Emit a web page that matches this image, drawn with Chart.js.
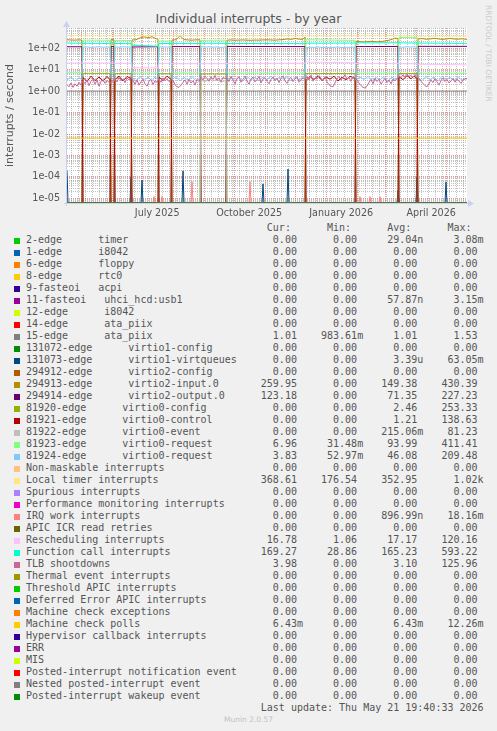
<!DOCTYPE html>
<html lang="en">
<head>
<meta charset="UTF-8">
<title>Individual interrupts - by year</title>
<script src="https://cdn.jsdelivr.net/npm/chart.js@4"></script>
<style>
  body { margin: 0; background: #f0f0f0; width: 497px; height: 731px; position: relative; overflow: hidden;
         font-family: 'DejaVu Sans', sans-serif; color: #555; }
  #chart { position: absolute; left: 0; top: 0; }
  .title { position: absolute; left: 0; top: 11px; width: 497px; text-align: center; font-size: 12.5px; line-height: 16px; }
  .rrd { position: absolute; left: 484px; top: 5px; writing-mode: vertical-rl; font-size: 7.5px; line-height: 9px; color: #cccccc; }
  #legend { position: absolute; left: 0; top: 0; font-family: 'DejaVu Sans Mono', monospace; font-size: 10px; }
  .row { position: absolute; left: 26px; height: 12px; line-height: 12px; white-space: pre; }
  .sw { position: absolute; left: 14px; width: 6px; height: 6px; }
  .munin { position: absolute; left: 0; top: 715px; width: 497px; text-align: center; font-size: 7.5px; line-height: 10px; color: #c0c0c0; }
</style>
</head>
<body>
<div class="title">Individual interrupts - by year</div>
<div class="rrd">RRDTOOL / TOBI OETIKER</div>
<canvas id="chart" width="497" height="222"></canvas>
<div id="legend"></div>
<div class="munin">Munin 2.0.57</div>
<script>
// ---- legend table ----
const labels = [
  '2-edge      timer', '1-edge      i8042', '6-edge      floppy', '8-edge      rtc0',
  '9-fasteoi   acpi', '11-fasteoi   uhci_hcd:usb1', '12-edge      i8042', '14-edge      ata_piix',
  '15-edge      ata_piix', '131072-edge      virtio1-config', '131073-edge      virtio1-virtqueues',
  '294912-edge      virtio2-config', '294913-edge      virtio2-input.0', '294914-edge      virtio2-output.0',
  '81920-edge      virtio0-config', '81921-edge      virtio0-control', '81922-edge      virtio0-event',
  '81923-edge      virtio0-request', '81924-edge      virtio0-request', 'Non-maskable interrupts',
  'Local timer interrupts', 'Spurious interrupts', 'Performance monitoring interrupts', 'IRQ work interrupts',
  'APIC ICR read retries', 'Rescheduling interrupts', 'Function call interrupts', 'TLB shootdowns',
  'Thermal event interrupts', 'Threshold APIC interrupts', 'Deferred Error APIC interrupts',
  'Machine check exceptions', 'Machine check polls', 'Hypervisor callback interrupts', 'ERR', 'MIS',
  'Posted-interrupt notification event', 'Nested posted-interrupt event', 'Posted-interrupt wakeup event'
];
const curVals = [0,0,0,0,0,0,0,0,1.01,0,0,0,259.95,123.18,0,0,0,6.96,3.83,0,368.61,0,0,0,0,16.78,169.27,3.98,0,0,0,0,6.43e-3,0,0,0,0,0,0];
const minVals = [0,0,0,0,0,0,0,0,983.61e-3,0,0,0,0,0,0,0,0,31.48e-3,52.97e-3,0,176.54,0,0,0,0,1.06,28.86,0,0,0,0,0,0,0,0,0,0,0,0];
const avgVals = [29.04e-9,0,0,0,0,57.87e-9,0,0,1.01,0,3.39e-6,0,149.38,71.35,2.46,1.21,215.06e-3,93.99,46.08,0,352.95,0,0,896.99e-9,0,17.17,165.23,3.10,0,0,0,0,6.43e-3,0,0,0,0,0,0];
const maxVals = [3.08e-3,0,0,0,0,3.15e-3,0,0,1.53,0,63.05e-3,0,430.39,227.23,253.33,138.63,81.23,411.41,209.48,0,1.02e3,0,0,18.16e-3,0,120.16,593.22,125.96,0,0,0,0,12.26e-3,0,0,0,0,0,0];

const palette = ['#00CC00','#0066B3','#FF8000','#FFCC00','#330099','#990099','#CCFF00','#FF0000','#808080',
  '#008F00','#00487D','#B35A00','#B38F00','#6B006B','#8FB300','#B30000','#BEBEBE','#80FF80','#80C9FF',
  '#FFC080','#FFE680','#AA80FF','#EE00CC','#FF8080','#666600','#FFBFFF','#00FFCC','#CC6699','#999900'];

// ---- plotted series (x = day since start of the 400 day window) ----
const days = [0,4,8,12,15, 16,20,24,28,32,36,40,43, 44,47, 48,52,56,60,64, 65,69,73,77,81,85,88,91,
  92,96,100,104, 105,109,113,117,121,125,129,133, 134,138,142,146,150,154,159,
  160,164,168,172,176,180,184,188,192,196,200,204,208,212,216,220,224,228,232,236,238,
  239,243,247,251,255,259,263,267,271,275,279,283,288, 289,293,297,301,305,309,313,317,321,325,328,331,
  332,336,340,344,347,350, 351,355,359,363,367,371,375,379,383,387,391,395,400];
const v2inVals = [250,245,240,248,242, 0,0,0,0,0,0,0,0, 255,250, 0,0,0,0,0, 245,250,305,345,310,350,290,265,
  0,0,0,0, 245,252,385,255,245,240,248,250, 0,0,0,0,0,0,0,
  240,245,238,242,246,240,236,242,240,246,250,244,240,248,255,272,262,285,268,262,335,
  0,0,0,0,0,0,0,0,0,0,0,0,0, 212,205,198,206,212,200,205,216,232,262,300,282,
  0,0,0,0,0,0, 272,285,265,272,292,276,262,270,288,272,266,278,260];
const v0ctlVals = [0,0,0,0,0, 4.4,2.8,5.0,3.1,4.6,2.9,4.9,3.4, 0,0, 3.5,5.0,3.0,4.8,3.9, 0,0,0,0,0,0,0,0,
  4.6,3.1,5.0,3.6, 0,0,0,0,0,0,0,0, 0,0,0,0,0,0,0,
  0,0,0,0,0,0,0,0,0,0,0,0,0,0,0,0,0,0,0,0,0,
  3.2,4.8,3.5,5.2,3.1,4.6,3.6,5.0,3.0,4.5,3.4,4.9,4.0, 0,0,0,0,0,0,0,0,0,0,0,0,
  4.8,3.4,5.3,3.8,5.0,3.9, 0,0,0,0,0,0,0,0,0,0,0,0,0];
const v0evtVals = [0,0,0,0,0, 0,0,0,0,0,0,0,0, 0,0, 0,0,0,0,0, 0,0,0,0,0,0,0,0,
  0,0,0,0, 0,0,0,0,0,0,0,0, 3.4,2.8,3.8,3.0,3.6,2.6,3.2,
  0,0,0,0,0,0,0,0,0,0,0,0,0,0,0,0,0,0,0,0,0,
  0,0,0,0,0,0,0,0,0,0,0,0,0, 0,0,0,0,0,0,0,0,0,0,0,0,
  0,0,0,0,0,0, 0,0,0,0,0,0,0,0,0,0,0,0,0];
const v0req2Vals = [3.3,4.6,2.9,4.2,3.4, 112,116,110,114,118,112,115,113, 4.4,3.1, 116,112,118,114,115,
  4.2,2.9,4.9,3.2,4.5,3.0,4.7,3.4, 118,114,116,112, 3.5,4.8,3.0,4.4,3.3,5.0,2.9,4.1, 120,114,118,112,116,110,115,
  3.4,4.7,3.1,4.3,2.9,4.9,3.3,4.5,3.0,4.6,3.4,5.0,3.1,4.4,3.6,4.8,3.0,4.5,3.3,4.9,3.9,
  108,112,110,115,109,113,106,111,114,108,112,110,113, 3.2,4.6,3.5,5.0,3.1,4.4,3.4,4.8,3.0,4.5,3.6,4.2,
  116,112,118,114,117,115, 4.3,3.1,4.8,3.4,4.5,3.0,5.0,3.5,4.4,3.2,4.6,3.3,3.83];

// TLB shootdowns, one value every 2 days
const tlbVals = [2.0,1.6,2.4,1.5,2.2,1.7,2.6,1.9,
  3.0,2.2,3.4,1.8,2.9,3.6,2.1,3.3,1.7,2.8,3.5,2.3,3.1,2.6,
  2.4,3.2,
  3.9,2.7,4.4,3.1,3.7,2.5,4.1,3.3,4.6,
  3.0,2.1,3.4,1.9,2.7,3.6,2.2,1.7,2.9,3.5,2.0,3.1,2.6,
  3.6,2.6,4.2,3.0,3.8,2.8,3.4,
  3.2,2.0,1.6,1.5,1.9,2.6,3.4,2.1,3.6,2.4,3.1,1.9,3.5,2.8,
  4.6,3.3,5.2,3.8,2.9,4.8,3.5,5.4,3.1,4.2,2.7,4.4,3.9,
  4.2,2.8,4.9,3.3,2.2,3.9,4.7,2.6,3.6,5.0,3.0,2.1,3.8,4.5,2.7,3.4,4.9,2.4,3.7,4.3,
  2.9,2.2,3.5,4.6,3.1,4.1,2.5,3.9,5.2,3.0,2.3,3.6,4.4,2.8,3.8,4.8,2.6,3.4,4.2,3.6,
  4.8,3.3,5.6,2.9,4.2,3.6,5.3,4.0,3.1,4.7,2.7,2.0,1.7,1.6,2.4,3.8,5.0,3.2,4.5,5.7,3.5,4.4,2.9,4.6,4.1,
  3.4,2.4,1.8,1.5,1.4,1.7,2.6,3.5,2.2,3.9,2.8,3.6,2.1,2.9,4.0,2.5,3.3,2.2,3.7,3.0,3.8,
  5.0,4.2,5.8,4.6,6.2,4.8,5.4,4.4,5.6,4.7,
  3.8,2.9,2.3,1.8,1.6,2.2,3.4,2.5,3.9,2.7,1.9,3.2,4.1,2.8,3.5,2.4,3.0,4.0,2.6,3.7,2.9,2.3,3.3,3.8,3.98];
const tlbDays = tlbVals.map((v, k) => 2 * k);

// boot segments: value at start and end of each
const segDays = [0,15, 16,43, 44,47, 48,64, 65,91, 92,104, 105,133, 134,159, 160,238, 239,288, 289,331, 332,350, 351,400];
const locVals = [385,382, 380,378, 384,384, 380,378, 388,390, 380,380, 384,380, 378,378, 384,380, 376,380, 384,386, 378,378, 372,369];
const calVals = [175,172, 170,168, 172,172, 168,165, 140,125, 165,168, 170,168, 172,170, 168,165, 172,175, 178,180, 178,176, 175,169];
const resVals = [20.5,20.5, 20.5,20.5, 20.5,20.5, 20,20, 12.5,12, 19.5,19.5, 19,19, 19,19, 19.5,20, 23,21, 19.5,19.5, 19,19, 18,16.8];
const v2outVals = [118,118, 0,0, 120,120, 0,0, 115,118, 0,0, 120,120, 0,0, 122,120, 0,0, 120,122, 0,0, 123,123];
const v0cfgVals = [0,0, 6.8,6.8, 0,0, 6.6,6.6, 0,0, 6.5,6.5, 0,0, 6.4,6.4, 0,0, 6.6,6.6, 0,0, 6.7,6.7, 0,0];
const v0req1Vals = [7.2,7.2, 240,238, 7,7, 228,230, 7,7, 218,220, 7.1,7, 235,240, 7,7, 250,235, 7,7, 320,310, 7,6.96];

// spikes
const vqDays = [0,1, 63,64,65, 74,75,76, 115,116,117, 195,196,197, 220,221,222, 330,331,332, 349,350,351, 378,379,380, 400];
const vqVals = [1.9e-4,0, 0,1.0e-4,0, 0,7.1e-5,0, 0,1.9e-4,0, 0,4.7e-5,0, 0,2.3e-4,0, 0,2.4e-5,0, 0,1.0e-4,0, 0,5.8e-5,0, 0];
const irqDays = [0, 86,87,88, 94,95,96, 124,125,126, 182,183,184, 292,293,294, 302,303,304, 312,313,314, 400];
const irqVals = [0, 0,1.2e-5,0, 0,1.2e-5,0, 0,6e-5,0, 0,6e-5,0, 0,1.2e-5,0, 0,1.2e-5,0, 0,1.2e-5,0, 0];

const edgeDays = [0, 400];
const ata15Vals = [1.01, 1.01];
const mcpVals = [6.43e-3, 6.43e-3];
const zeroVals = [0, 0];

// time axis
const xLabelText = ['July 2025', 'October 2025', 'January 2026', 'April 2026'];
const DAY = 86400000;
const endTime = Date.UTC(2026, 4, 21, 19, 40, 33);
const startTime = endTime - 400 * DAY;
const dayOf = t => (t - startTime) / DAY;
const labelTimes = [Date.UTC(2025, 6, 16), Date.UTC(2025, 9, 16), Date.UTC(2026, 0, 16), Date.UTC(2026, 3, 16)];

const yMin = 6.04e-6, yMax = 885;

const sources = labels.map(() => [edgeDays, zeroVals]);
sources[8] = [edgeDays, ata15Vals];
sources[10] = [vqDays, vqVals];
sources[12] = [days, v2inVals];
sources[13] = [segDays, v2outVals];
sources[14] = [segDays, v0cfgVals];
sources[15] = [days, v0ctlVals];
sources[16] = [days, v0evtVals];
sources[17] = [segDays, v0req1Vals];
sources[18] = [days, v0req2Vals];
sources[20] = [segDays, locVals];
sources[23] = [irqDays, irqVals];
sources[25] = [segDays, resVals];
sources[26] = [segDays, calVals];
sources[27] = [tlbDays, tlbVals];
sources[32] = [edgeDays, mcpVals];

const colorOf = i => palette[i % palette.length];

const datasets = labels.map((name, i) => {
  const [xs, ys] = sources[i];
  return {
    label: name,
    data: xs.map((d, j) => ({ x: d, y: ys[j] > 0 ? ys[j] : yMin })),
    borderColor: colorOf(i),
    borderWidth: 1,
    pointRadius: 0,
    fill: false,
    order: -i
  };
});

// grid ticks
const xKind = new Map();
const xText = new Map();
const monthDays = [];
for (let m = 4; m <= 16; m++) monthDays.push(dayOf(Date.UTC(2025, m, 1)));
monthDays.forEach(d => xKind.set(d, 'major'));
for (let t = Date.UTC(2025, 3, 21); t <= endTime; t += 7 * DAY) {
  const d = dayOf(t);
  if (!monthDays.some(m => Math.abs(m - d) < 0.01)) xKind.set(d, 'minor');
}
labelTimes.forEach((t, k) => { const d = dayOf(t); xKind.set(d, 'label'); xText.set(d, xLabelText[k]); });
const xTicks = [...xKind.keys()].filter(d => d >= 0 && d <= 400).sort((a, b) => a - b);

const yTicks = [];
for (let n = -6; n <= 2; n++) {
  for (let k = 1; k <= 9; k++) {
    const v = k * Math.pow(10, n);
    if (v >= yMin && v <= yMax) yTicks.push(v);
  }
}
const isDecade = v => Math.abs(Math.log10(v) - Math.round(Math.log10(v))) < 1e-9;

const GRID = 'rgba(143,143,143,0.55)';
const MGRID = 'rgba(222,79,79,0.6)';
const AXIS = '#c8d0f4';

const plotBg = {
  id: 'plotBg',
  beforeDraw(chart) {
    const { ctx, chartArea: a } = chart;
    ctx.save();
    ctx.fillStyle = '#ffffff';
    ctx.fillRect(a.left, a.top, a.right - a.left, a.bottom - a.top);
    ctx.restore();
  }
};

const axisArrows = {
  id: 'axisArrows',
  beforeDatasetsDraw(chart) {
    const { ctx, chartArea: a } = chart;
    ctx.save();
    ctx.strokeStyle = AXIS;
    ctx.fillStyle = AXIS;
    ctx.lineWidth = 1;
    ctx.beginPath();
    ctx.moveTo(a.left - 0.5, a.bottom + 3);
    ctx.lineTo(a.left - 0.5, a.top - 4);
    ctx.moveTo(a.left - 3, a.bottom + 0.5);
    ctx.lineTo(a.right + 3, a.bottom + 0.5);
    ctx.stroke();
    ctx.beginPath();
    ctx.moveTo(a.right + 1, a.bottom - 3);
    ctx.lineTo(a.right + 7, a.bottom + 0.5);
    ctx.lineTo(a.right + 1, a.bottom + 4);
    ctx.closePath();
    ctx.fill();
    ctx.beginPath();
    ctx.moveTo(a.left - 4, a.top - 1);
    ctx.lineTo(a.left - 0.5, a.top - 7);
    ctx.lineTo(a.left + 3, a.top - 1);
    ctx.closePath();
    ctx.fill();
    ctx.restore();
  }
};

Chart.defaults.font.family = "'DejaVu Sans', sans-serif";
Chart.defaults.color = '#555';

new Chart(document.getElementById('chart'), {
  type: 'line',
  data: { datasets },
  options: {
    responsive: false,
    animation: false,
    devicePixelRatio: 1,
    layout: { padding: { top: 28, right: 30, bottom: 0, left: 0 } },
    plugins: { legend: { display: false }, tooltip: { enabled: false }, title: { display: false } },
    scales: {
      x: {
        type: 'linear', min: 0, max: 400,
        afterBuildTicks: s => { s.ticks = xTicks.map(v => ({ value: v })); },
        afterFit: s => { s.height = 19; },
        grid: {
          drawTicks: false,
          color: c => {
            const k = c.tick ? xKind.get(c.tick.value) : null;
            return k === 'major' ? MGRID : k === 'minor' ? GRID : 'rgba(0,0,0,0)';
          }
        },
        border: { display: false, dash: [1, 1] },
        ticks: { autoSkip: false, maxRotation: 0, minRotation: 0, padding: 5, font: { size: 9.6 },
                 callback: v => xText.get(v) || '' }
      },
      y: {
        type: 'logarithmic', min: yMin, max: yMax,
        afterBuildTicks: s => { s.ticks = yTicks.map(v => ({ value: v })); },
        afterFit: s => { s.width = 67; },
        grid: { drawTicks: false, color: c => (c.tick && isDecade(c.tick.value)) ? MGRID : GRID },
        border: { display: false, dash: [1, 1] },
        title: { display: true, text: 'interrupts / second', font: { size: 10.9 }, padding: { top: 4, bottom: 0 } },
        ticks: {
          autoSkip: false, padding: 7, font: { size: 9.6 },
          callback: v => {
            if (!isDecade(v)) return '';
            const e = Math.round(Math.log10(v));
            return '1e' + (e < 0 ? '-' : '+') + String(Math.abs(e)).padStart(2, '0');
          }
        }
      }
    }
  },
  plugins: [plotBg, axisArrows]
});

// ---- text legend ----
const legend = document.getElementById('legend');
function si(v) {
  const pre = [['k', 1e3], [' ', 1], ['m', 1e-3], ['u', 1e-6], ['n', 1e-9]];
  if (v === 0) return '0.00 ';
  for (const [s, f] of pre) if (v >= f) return (v / f).toFixed(2) + s;
  return v.toFixed(2) + ' ';
}
const field = v => si(v).padStart(7);
function addRow(top, text) {
  const r = document.createElement('div');
  r.className = 'row';
  r.style.top = top + 'px';
  r.textContent = text;
  legend.appendChild(r);
}
addRow(222, ' '.repeat(40) + 'Cur:' + ' '.repeat(6) + 'Min:' + ' '.repeat(6) + 'Avg:' + ' '.repeat(6) + 'Max:');
labels.forEach((name, i) => {
  const top = 234 + 12 * i;
  const sw = document.createElement('div');
  sw.className = 'sw';
  sw.style.top = (top + 4) + 'px';
  sw.style.background = colorOf(i);
  legend.appendChild(sw);
  addRow(top, name.padEnd(39) + field(curVals[i]) + '   ' + field(minVals[i]) + '   ' +
    field(avgVals[i]) + '   ' + field(maxVals[i]));
});
addRow(234 + 12 * labels.length, ' '.repeat(39) + 'Last update: Thu May 21 19:40:33 2026');
</script>
</body>
</html>
